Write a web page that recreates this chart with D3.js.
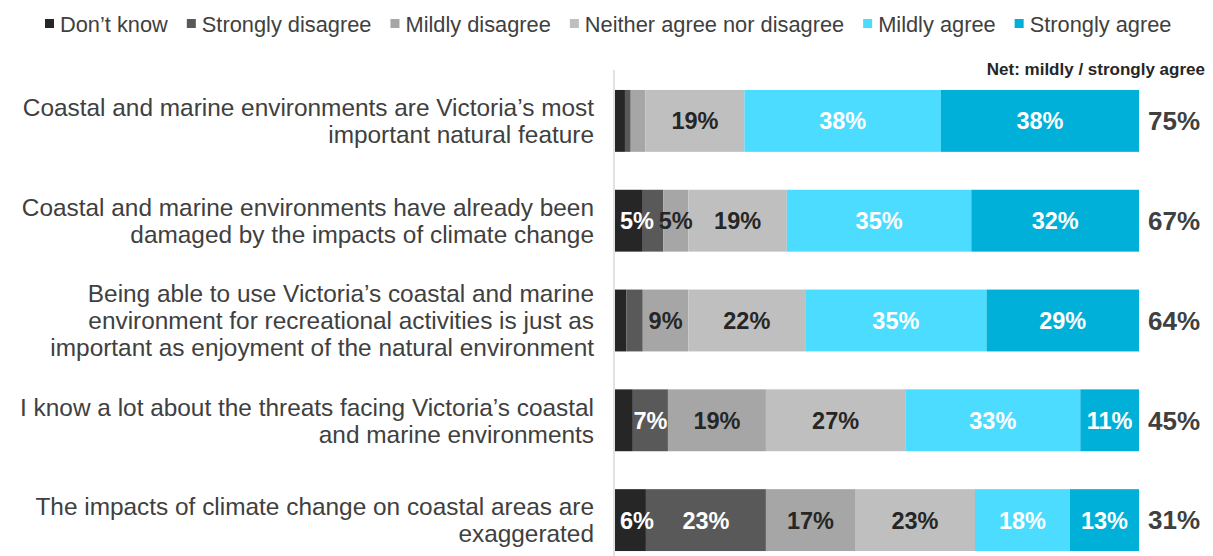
<!DOCTYPE html>
<html>
<head>
<meta charset="utf-8">
<script src="https://cdn.jsdelivr.net/npm/d3@7"></script>
<style>
  html, body { margin: 0; padding: 0; background: #ffffff; }
  svg { display: block; font-family: "Liberation Sans", Arial, sans-serif; }
</style>
</head>
<body>
<svg id="chart" width="1213" height="556"></svg>
<script>
// Survey statements (each entry is the wrapped lines of the label)
const statements = [
  ["Coastal and marine environments are Victoria\u2019s most", "important natural feature"],
  ["Coastal and marine environments have already been", "damaged by the impacts of climate change"],
  ["Being able to use Victoria\u2019s coastal and marine", "environment for recreational activities is just as", "important as enjoyment of the natural environment"],
  ["I know a lot about the threats facing Victoria\u2019s coastal", "and marine environments"],
  ["The impacts of climate change on coastal areas are", "exaggerated"]
];

// Response categories, in stacking order
const responses = ["Don\u2019t know", "Strongly disagree", "Mildly disagree", "Neither agree nor disagree", "Mildly agree", "Strongly agree"];
const responseColors = ["#262626", "#595959", "#a6a6a6", "#bfbfbf", "#4cdcff", "#00b0d8"];
const labelColors = ["#ffffff", "#ffffff", "#262626", "#262626", "#ffffff", "#ffffff"];

// Share of respondents (%) per statement, one array per response
const dontKnow         = [1.9, 5.3, 2.2, 3.4, 5.9];
const stronglyDisagree = [1.1, 3.9, 3.1, 6.7, 22.9];
const mildlyDisagree   = [2.8, 4.8, 8.7, 18.7, 17.0];
const neither          = [18.9, 18.8, 22.3, 26.6, 22.9];
const mildlyAgree      = [37.5, 35.2, 34.6, 33.4, 18.1];
const stronglyAgree    = [37.8, 32.0, 29.1, 11.2, 13.2];

const series = [dontKnow, stronglyDisagree, mildlyDisagree, neither, mildlyAgree, stronglyAgree];
const netHeading = "Net: mildly / strongly agree";

const svg = d3.select("#chart");

const x = d3.scaleLinear().domain([0, 100]).range([615, 1139]);
const y = d3.scaleBand()
  .domain(d3.range(statements.length))
  .range([71, 570])
  .paddingInner(0.38)
  .paddingOuter(0.19);

// Stack the series per statement
const rows = statements.map((s, i) => {
  const r = { idx: i };
  responses.forEach((k, j) => { r[k] = series[j][i]; });
  return r;
});
const stacked = d3.stack().keys(responses)(rows);

// Vertical baseline
svg.append("line")
  .attr("x1", x(0) - 1).attr("x2", x(0) - 1)
  .attr("y1", 70).attr("y2", 556)
  .attr("stroke", "#d9d9d9").attr("stroke-width", 1.5);

// Bars
const layers = svg.append("g").selectAll("g")
  .data(stacked)
  .join("g")
  .attr("fill", (d, j) => responseColors[j]);

layers.selectAll("rect")
  .data(d => d)
  .join("rect")
  .attr("x", d => x(d[0]))
  .attr("y", (d, i) => y(i))
  .attr("width", d => x(d[1]) - x(d[0]))
  .attr("height", y.bandwidth());

// Segment labels (shown when the rounded share is 5% or more);
// kept inside the bar's left edge when the segment is narrow
const fmt = v => Math.round(v) + "%";
stacked.forEach((layer, j) => {
  svg.append("g").selectAll("text")
    .data(layer.filter(d => Math.round(d[1] - d[0]) >= 5))
    .join("text")
    .attr("y", d => y(d.data.idx) + y.bandwidth() / 2)
    .attr("dy", "0.36em")
    .attr("text-anchor", "middle")
    .attr("font-size", 23.5)
    .attr("font-weight", "bold")
    .attr("fill", labelColors[j])
    .text(d => fmt(d[1] - d[0]))
    .attr("x", function (d) {
      const half = this.getComputedTextLength() / 2;
      return Math.max((x(d[0]) + x(d[1])) / 2, x(0) + 5 + half);
    });
});

// Net agree values
svg.append("text")
  .attr("x", 1205).attr("y", 75)
  .attr("text-anchor", "end")
  .attr("font-size", 17)
  .attr("font-weight", "bold")
  .attr("fill", "#262626")
  .text(netHeading);

svg.append("g").selectAll("text")
  .data(statements.map((s, i) => mildlyAgree[i] + stronglyAgree[i]))
  .join("text")
  .attr("x", 1174)
  .attr("y", (d, i) => y(i) + y.bandwidth() / 2)
  .attr("dy", "0.36em")
  .attr("text-anchor", "middle")
  .attr("font-size", 26)
  .attr("font-weight", "bold")
  .attr("fill", "#404040")
  .text(d => fmt(d));

// Statement labels
const lineH = 27;
const labels = svg.append("g").selectAll("text")
  .data(statements)
  .join("text")
  .attr("text-anchor", "end")
  .attr("font-size", 24.4)
  .attr("fill", "#404040");
labels.each(function (lines, i) {
  const cy = y(i) + y.bandwidth() / 2;
  const top = cy - (lines.length - 1) * lineH / 2;
  d3.select(this).selectAll("tspan")
    .data(lines)
    .join("tspan")
    .attr("x", 594)
    .attr("y", (l, k) => top + k * lineH)
    .attr("dy", "0.36em")
    .text(l => l);
});

// Legend
const legend = svg.append("g");
let lx = 45;
responses.forEach((r, j) => {
  legend.append("rect")
    .attr("x", lx).attr("y", 19)
    .attr("width", 9).attr("height", 9)
    .attr("fill", responseColors[j]);
  const t = legend.append("text")
    .attr("x", lx + 15).attr("y", 24)
    .attr("dy", "0.36em")
    .attr("font-size", 21.8)
    .attr("fill", "#404040")
    .text(r);
  lx += 15 + t.node().getComputedTextLength() + 19;
});
</script>
</body>
</html>
